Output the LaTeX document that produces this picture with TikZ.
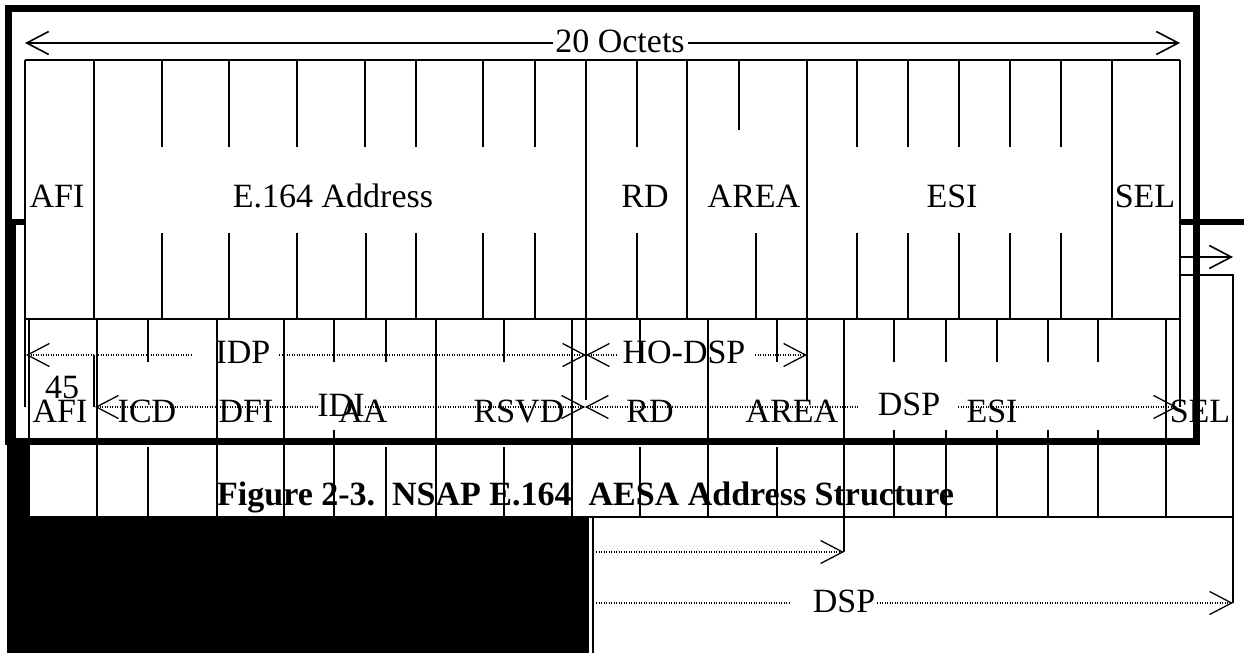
\documentclass[tikz,border=0pt]{standalone}
\usepackage{fontspec}
\setmainfont{Liberation Serif}
\usetikzlibrary{arrows.meta}
\begin{document}
\begin{tikzpicture}[x=1pt,y=-1pt,
  ln/.style={line width=1.6pt},
  dl/.style={line width=1.3pt,dash pattern=on 1.1pt off 1.4pt},
  lbl/.style={font=\fontsize{34}{34}\selectfont,inner sep=0pt,anchor=base},
  captxt/.style={font=\fontsize{34}{34}\selectfont\bfseries,inner sep=0pt,anchor=base west},
  blk/.style={fill=black,draw=none},
  >={Straight Barb[length=22pt,width=23pt]}]
\useasboundingbox (0,0) rectangle (1244,653);

% ---------- top dimension arrow ----------
\node[lbl] (oct) at (620,52) {20 Octets};
\coordinate (octL) at (25,43);  \coordinate (octLg) at (553,43);
\coordinate (octRg) at (688,43); \coordinate (octR) at (1180,43);
\draw[ln,<-] (octL) -- (octLg);
\draw[ln,->] (octRg) -- (octR);

% ---------- row 1 box ----------
\draw[ln] (25,60) -- (1180,60);
\draw[ln] (25,319) -- (1180,319);
\foreach \x/\b in {25/407,94/319,586/400,687/319,807/400,1112/319,1180/407}
  \draw[ln] (\x,60) -- (\x,\b);
\foreach \x in {162,229,297,365,416,483,535,637,857,908,959,1010,1061}
  \draw[ln] (\x,60) -- (\x,147);
\draw[ln] (739,60) -- (739,130);
\foreach \x in {162,229,297,366,416,483,535,637,756,857,908,959,1010,1061}
  \draw[ln] (\x,233) -- (\x,319);
\draw[ln] (94,355) -- (94,407);

\node[lbl] (afi1) at (57,207) {AFI};
\node[lbl] (e164) at (333,207) {E.164 Address};
\node[lbl] (rd1) at (645,207) {RD};
\node[lbl] (area1) at (754,207) {AREA};
\node[lbl] (esi1) at (952,207) {ESI};
\node[lbl] (sel1) at (1145,207) {SEL};

% ---------- row 2 box ----------
\foreach \x/\b in {29/517,97/517,217/517,284/517,436/517,572/517,708/517,844/552,1166/517}
  \draw[ln] (\x,319) -- (\x,\b);
\foreach \x in {148,334,386,504,640,777,894,946,997,1048,1098}
  \draw[ln] (\x,319) -- (\x,362);
\foreach \x in {334,894,946,997,1048,1098}
  \draw[ln] (\x,430) -- (\x,517);
\foreach \x in {148,386,504,640,777}
  \draw[ln] (\x,447) -- (\x,517);
\draw[ln] (29,517) -- (1233,517);
\draw[ln] (1180,275) -- (1233,275) -- (1233,603);
\coordinate (sArrL) at (1180,257); \coordinate (sArrR) at (1233,257);
\draw[ln,->] (sArrL) -- (sArrR);

% ---------- IDP / HO-DSP line ----------
\node[lbl] (idp) at (243,363) {IDP};
\node[lbl] (hodsp) at (684,363) {HO-DSP};
\coordinate (idpL) at (26,355);  \coordinate (idpLg) at (192,355);
\coordinate (idpRg) at (279,355); \coordinate (idpR) at (586,355);
\coordinate (hoLg) at (617,355);  \coordinate (hoRg) at (755,355);
\coordinate (hoR) at (807,355);
\draw[dl,<-] (idpL) -- (idpLg);
\draw[dl,->] (idpRg) -- (idpR);
\draw[dl,<-] (idpR) -- (hoLg);
\draw[dl,->] (hoRg) -- (hoR);

% ---------- IDI / DSP line ----------
\node[lbl] (n45) at (62,398) {45};
\node[lbl] (afi2) at (60,422) {AFI};
\node[lbl] (icd) at (147,422) {ICD};
\node[lbl] (dfi) at (246,422) {DFI};
\node[lbl] (idi) at (341,416) {IDI};
\node[lbl] (aa) at (363,422) {AA};
\node[lbl] (rsvd) at (519,422) {RSVD};
\node[lbl] (rd2) at (650,422) {RD};
\node[lbl] (area2) at (792,422) {AREA};
\node[lbl] (dsp1) at (909,415) {DSP};
\node[lbl] (esi2) at (992,422) {ESI};
\node[lbl] (sel2) at (1200,422) {SEL};
\coordinate (idiL) at (95,407);  \coordinate (idiLg) at (318,407);
\coordinate (idiRg) at (365,407); \coordinate (idiR) at (585,407);
\coordinate (dspLg) at (858,407); \coordinate (dspRg) at (958,407);
\coordinate (dspR) at (1177,407);
\draw[dl,<-] (idiL) -- (idiLg);
\draw[dl,->] (idiRg) -- (idiR);
\draw[dl,<-] (idiR) -- (dspLg);
\draw[dl,->] (dspRg) -- (dspR);

% ---------- caption ----------
\node[captxt] (caption) at (217,505) {Figure 2-3.\ \ NSAP E.164\ \ AESA Address Structure};

% ---------- lower arrows ----------
\coordinate (loL) at (596,552); \coordinate (loR) at (844,552);
\draw[dl,->] (loL) -- (loR);
\node[lbl] (dsp2) at (844,612) {DSP};
\coordinate (dL) at (596,603); \coordinate (dLg) at (790,603);
\coordinate (dRg) at (877,603); \coordinate (dR) at (1233,603);
\draw[dl] (dL) -- (dLg);
\draw[dl,->] (dRg) -- (dR);

% ---------- thick frame and black areas ----------
\path[blk] (5,5) rectangle (1200,12);
\path[blk] (5,5) rectangle (12,222);
\path[blk] (12,219) rectangle (25,225);
\path[blk] (5,222) rectangle (16,445);
\path[blk] (5,438) rectangle (1200,445);
\path[blk] (1193,5) rectangle (1200,445);
\path[blk] (1180,219) rectangle (1244,225);
\path[blk] (7,445) rectangle (29,517);
\path[blk] (7,517) rectangle (589,653);
\draw[line width=2pt] (593,517) -- (593,653);
\end{tikzpicture}
\end{document}
